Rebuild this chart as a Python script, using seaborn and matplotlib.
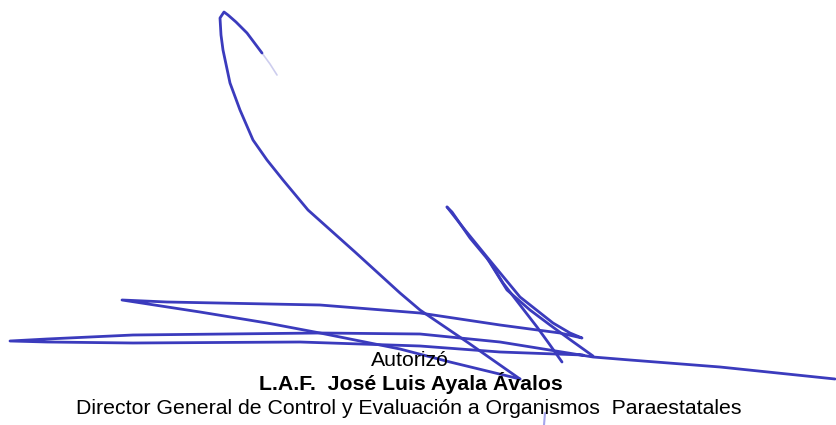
import numpy as np
import pandas as pd
import matplotlib
matplotlib.use("Agg")
import matplotlib.pyplot as plt
import seaborn as sns

# Signature strokes (pixel coordinates, y downward)
loop_x = [262, 247, 236, 228, 224, 220, 221, 223, 230, 240, 253, 267, 283, 308, 355, 400, 420, 470, 520]
loop_y = [53, 33, 22, 15, 12, 18, 35, 50, 83, 110, 140, 160, 180, 210, 252, 293, 310, 344, 379]

tail_x = [262, 270, 277]
tail_y = [53, 64, 75]

vee_x = [447, 465, 487, 520, 553, 570, 582, 560, 500, 420, 320, 167, 122, 200, 267, 320, 400, 450, 520]
vee_y = [207, 230, 257, 297, 323, 333, 338, 333, 325, 313, 305, 302, 300, 312, 323, 333, 349, 362, 379]

slash_x = [447, 452, 470, 490, 503, 520, 537, 550, 562]
slash_y = [207, 212, 238, 262, 283, 305, 327, 345, 362]

branch_x = [487, 507, 530, 550, 572, 593]
branch_y = [258, 290, 310, 325, 341, 356]

long_x = [835, 720, 630, 593, 500, 420, 320, 133, 47, 10, 47, 133, 300, 420, 500, 583]
long_y = [379, 367, 360, 357, 342, 334, 333, 335, 339, 341, 342, 343, 342, 346, 352, 355]

mark_x = [545, 544]
mark_y = [413, 425]

strokes = {"loop": (loop_x, loop_y), "vee": (vee_x, vee_y), "slash": (slash_x, slash_y),
           "branch": (branch_x, branch_y), "long": (long_x, long_y)}

rows = []
for name, (xs, ys) in strokes.items():
    for i, (x, y) in enumerate(zip(xs, ys)):
        rows.append({"stroke": name, "order": i, "x": x, "y": y})
df = pd.DataFrame(rows)
df_tail = pd.DataFrame({"stroke": "tail", "x": tail_x, "y": tail_y})
df_mark = pd.DataFrame({"stroke": "mark", "x": mark_x, "y": mark_y})

line1 = "Autorizó"
line2 = "L.A.F.  José Luis Ayala Ávalos"
line3 = "Director General de Control y Evaluación a Organismos  Paraestatales"

sns.set_theme(style="white")
plt.rcParams['font.family'] = ['Liberation Sans', 'DejaVu Sans']

fig = plt.figure(figsize=(8.36, 4.25), dpi=100)
ax = fig.add_axes([0, 0, 1, 1])
ax.set_xlim(0, 836)
ax.set_ylim(425, 0)
ax.axis("off")

ink = "#3b3bbd"
sns.lineplot(data=df, x="x", y="y", units="stroke", estimator=None, sort=False,
             color=ink, linewidth=2.0, ax=ax, legend=False,
             solid_joinstyle="round", solid_capstyle="round")
sns.lineplot(data=df_tail, x="x", y="y", estimator=None, sort=False,
             color=ink, alpha=0.25, linewidth=1.2, ax=ax, legend=False)
sns.lineplot(data=df_mark, x="x", y="y", estimator=None, sort=False,
             color="#6a6ae0", alpha=0.6, linewidth=1.5, ax=ax, legend=False)

ax.text(410, 366, line1, ha="center", va="baseline", fontsize=15.3, color="black")
ax.text(411, 390, line2, ha="center", va="baseline", fontsize=15.3, fontweight="bold", color="black")
ax.text(409, 414, line3, ha="center", va="baseline", fontsize=15.3, color="black")

fig.savefig("out.png", dpi=100)
